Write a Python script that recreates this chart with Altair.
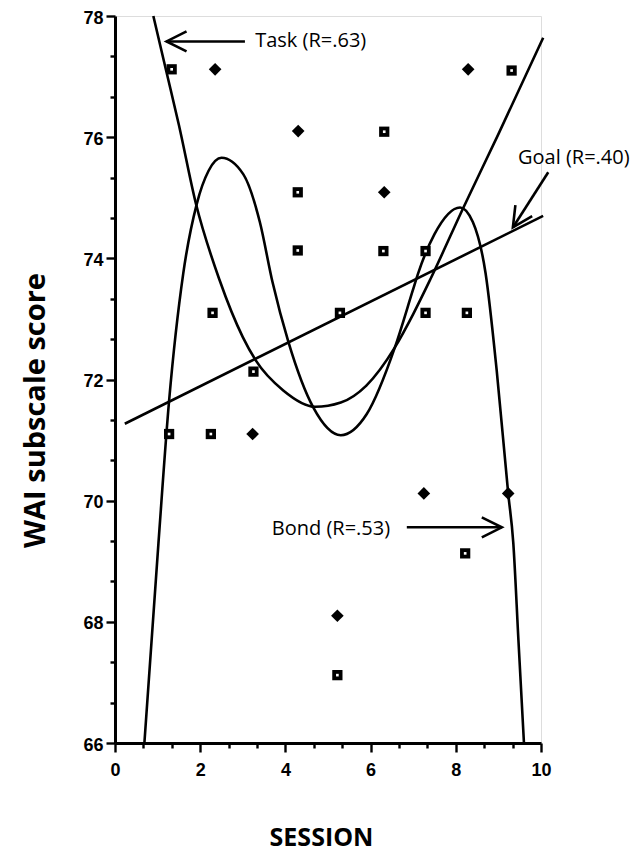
import altair as alt
import pandas as pd

# ---- data ----
# squares (black with white centre)
sq_x = [1.33, 4.29, 4.29, 6.32, 9.31, 6.30, 7.29, 2.29, 5.28, 3.25, 1.27, 2.25, 7.29, 8.26, 8.22, 5.22]
sq_y = [77.12, 75.09, 74.13, 76.09, 77.10, 74.12, 74.12, 73.10, 73.10, 72.13, 71.10, 71.10, 73.10, 73.10, 69.13, 67.12]
# filled diamonds
dia_x = [2.35, 4.30, 6.32, 8.29, 3.23, 7.25, 9.23, 5.22]
dia_y = [77.12, 76.10, 75.09, 77.12, 71.10, 70.12, 70.12, 68.10]

# fitted curves
task_x = [0.90, 1.20, 1.50, 1.90, 2.45, 3.00, 3.30, 3.95, 4.70, 5.30, 5.90, 6.57, 7.00, 7.40, 8.18, 9.00, 10.05]
task_y = [78.00, 77.10, 76.20, 74.90, 73.65, 72.70, 72.32, 71.82, 71.55, 71.62, 71.90, 72.53, 73.08, 73.65, 74.84, 76.05, 77.64]
bond_x = [0.69, 1.02, 1.27, 1.60, 1.92, 2.20, 2.50, 3.01, 3.40, 3.70, 4.07, 4.66, 5.30, 5.91, 6.57, 6.99, 7.11, 7.50, 8.10, 8.40, 8.70, 8.96, 9.23, 9.35, 9.47, 9.60]
bond_y = [66.00, 69.30, 71.65, 73.74, 74.90, 75.45, 75.66, 75.39, 74.60, 73.60, 72.62, 71.53, 71.08, 71.43, 72.53, 73.47, 73.74, 74.40, 74.84, 74.60, 73.75, 72.15, 70.12, 69.30, 67.70, 66.00]
goal_x = [0.23, 10.05]
goal_y = [71.27, 74.70]

# annotations
ann_text = ["Task (R=.63)", "Goal (R=.40)", "Bond (R=.53)"]
ann_x = [3.29, 9.46, 3.68]
ann_y = [77.58, 75.66, 69.54]
tail_x = [3.05, 10.17, 6.85]
tail_y = [77.58, 75.42, 69.56]
tip_x = [1.21, 9.34, 9.08]
tip_y = [77.58, 74.51, 69.56]
tip_angle = [180, 123, 0]

x_major = [0, 2, 4, 6, 8, 10]
y_major = [66, 68, 70, 72, 74, 76, 78]
x_ticks = [i * 2 / 3 for i in range(16)]
y_ticks = [66 + i * 2 / 3 for i in range(19)]

# ---- tables ----
sq_df = pd.DataFrame({"x": sq_x, "y": sq_y})
dia_df = pd.DataFrame({"x": dia_x, "y": dia_y})
rows = []
for name, xs, ys in [("Task", task_x, task_y), ("Bond", bond_x, bond_y), ("Goal", goal_x, goal_y)]:
    for i, (a, b) in enumerate(zip(xs, ys)):
        rows.append({"curve": name, "x": a, "y": b, "order": i})
curve_df = pd.DataFrame(rows)
ann_df = pd.DataFrame({"text": ann_text, "x": ann_x, "y": ann_y})
arrow_df = pd.DataFrame({"x": tail_x, "y": tail_y, "x2": tip_x, "y2": tip_y, "angle": tip_angle})

major_test = "abs(datum.value - 2*round(datum.value/2)) < 0.01"
tick_size = {"condition": {"test": major_test, "value": 9}, "value": 5}
label_expr = f"{major_test} ? format(round(datum.value), 'd') : ''"

xscale = alt.Scale(domain=[0, 10], nice=False, zero=False)
yscale = alt.Scale(domain=[66, 78], nice=False, zero=False)

common_axis = dict(
    grid=False, domainColor="black", domainWidth=3, tickColor="black", tickWidth=2.4,
    labelFont="Liberation Sans", labelFontSize=18, labelFontWeight="bold", labelColor="black",
    labelOverlap=False, labelFlush=False, tickSize=tick_size, labelExpr=label_expr, tickCount=100,
    titleFont="Open Sans", titleFontWeight="bold", titleColor="black",
)
x_axis = alt.Axis(values=x_ticks, title="SESSION", labelPadding=9, titleFontSize=25,
                  titleX=206, titleY=94, titleAlign="center", titleBaseline="middle", **common_axis)
y_axis = alt.Axis(values=y_ticks, title="WAI subscale score", labelPadding=3, labelOffset=2,
                  titleFontSize=29, titleAngle=270, titleX=-80, titleY=394, titleAlign="center",
                  titleBaseline="middle", **common_axis)

X = alt.X("x:Q", scale=xscale, axis=x_axis)
Y = alt.Y("y:Q", scale=yscale, axis=y_axis)

lines = alt.Chart(curve_df).mark_line(color="black", strokeWidth=2.6, interpolate="monotone").encode(
    x=X, y=Y, detail="curve:N", order="order:Q")

squares = alt.Chart(sq_df).mark_point(shape="square", filled=True, color="black", size=105, opacity=1).encode(
    x="x:Q", y="y:Q")
centres = alt.Chart(sq_df).mark_point(shape="square", filled=True, color="white", size=7, opacity=1).encode(
    x="x:Q", y="y:Q")
diamonds = alt.Chart(dia_df).mark_point(shape="diamond", filled=True, color="black", size=160, opacity=1).encode(
    x="x:Q", y="y:Q")

shafts = alt.Chart(arrow_df).mark_rule(color="black", strokeWidth=2.6).encode(
    x="x:Q", y="y:Q", x2="x2:Q", y2="y2:Q")
heads = alt.Chart(arrow_df).mark_point(shape="M -1 -0.5 L 0 0 L -1 0.5", filled=False, color="black",
                                       strokeWidth=2.6, size=1600, opacity=1).encode(
    x="x2:Q", y="y2:Q", angle=alt.Angle("angle:Q", scale=None))

labels = alt.Chart(ann_df).mark_text(align="left", baseline="middle", font="Open Sans", fontSize=20,
                                     color="black").encode(x="x:Q", y="y:Q", text="text:N")

chart = alt.layer(lines, squares, centres, diamonds, shafts, heads, labels).properties(
    width=426, height=727,
    autosize=alt.AutoSizeParams(type="none"),
    padding={"left": 107, "top": 8, "right": 90, "bottom": 109},
).configure_view(stroke=None).configure(background="white")

chart.save("out.html", embed_options={"renderer": "svg", "actions": False})
